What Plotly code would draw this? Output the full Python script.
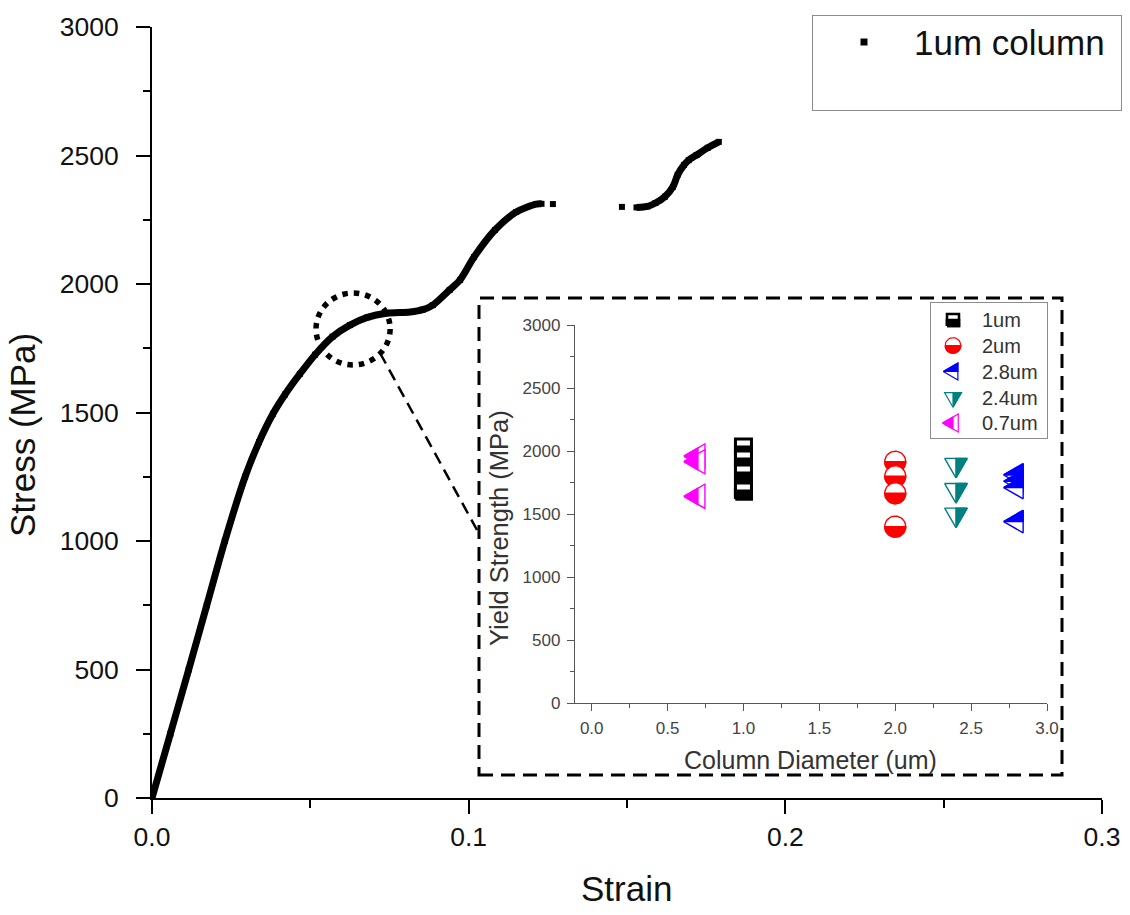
import math
import plotly.graph_objects as go

W, H = 1130, 915
FONT = "Liberation Sans, Arial, sans-serif"

# ---------------- main stress-strain curve (1um column) ----------------
strain = [0, 0.0058, 0.0116, 0.0173, 0.023, 0.0294, 0.0338, 0.0382, 0.042, 0.0467,
          0.0515, 0.057, 0.0625, 0.068, 0.074, 0.0815, 0.0855, 0.0887, 0.094, 0.0973,
          0.1017, 0.1083, 0.115, 0.1213, 0.123,
          None, 0.1266, None, 0.1484, None,
          0.153, 0.1565, 0.159, 0.162, 0.1645, 0.166, 0.168, 0.1695, 0.172, 0.1755, 0.179]
stress = [0, 250, 500, 750, 1000, 1250, 1385, 1495, 1570, 1650,
          1725, 1795, 1840, 1870, 1886, 1891, 1900, 1918, 1977, 2016,
          2105, 2210, 2280, 2311, 2312,
          None, 2311, None, 2300, None,
          2298, 2302, 2315, 2340, 2378, 2425, 2463, 2482, 2502, 2530, 2553]
main_legend_label = "1um column"

# ---------------- inset: yield strength vs column diameter ----------------
series_names = ["1um", "2um", "2.8um", "2.4um", "0.7um"]
diameters = [1.0, 2.0, 2.8, 2.4, 0.7]
ys_1um = [2032, 1937, 1825, 1698, 1683]
ys_2um = [1915, 1800, 1665, 1400]
ys_2p8um = [1810, 1760, 1710, 1440]
ys_2p4um = [1890, 1690, 1495]
ys_0p7um = [1960, 1915, 1640]
series_values = [ys_1um, ys_2um, ys_2p8um, ys_2p4um, ys_0p7um]
colors = ["#000000", "#ff0000", "#0000ff", "#008080", "#ff00ff"]
kinds = ["square", "circle", "left_top", "down_right", "left_left"]
sizes = [8, 10.5, 13, 13, 14]
edge_widths = [3, 1.4, 1.4, 1.4, 1.4]


def px_x(p):
    return p / W


def px_y(p):
    return 1 - p / H


def marker_shape(kind, r):
    h = r * math.sqrt(3) / 2
    if kind == "square":
        full = [(-r, -r), (r, -r), (r, r), (-r, r)]
        half = [(-r, -r), (r, -r), (r, 0), (-r, 0)]
    elif kind == "circle":
        full = [(r * math.cos(2 * math.pi * k / 36), r * math.sin(2 * math.pi * k / 36)) for k in range(36)]
        half = [(r * math.cos(math.pi + math.pi * k / 18), r * math.sin(math.pi + math.pi * k / 18)) for k in range(19)]
    elif kind == "left_top":
        full = [(-r, 0), (r / 2, h), (r / 2, -h)]
        half = [(-r, 0), (r / 2, h), (r / 2, 0)]
    elif kind == "down_right":
        full = [(0, -r), (h, r / 2), (-h, r / 2)]
        half = [(0, -r), (h, r / 2), (0, r / 2)]
    else:  # left_left
        full = [(-r, 0), (r / 2, h), (r / 2, -h)]
        half = [(-r, 0), (0, 2 * h / 3), (0, -2 * h / 3)]
    return full, half


def add_half_marker(fig, cx, cy, kind, r, color, kx, ky, xa, ya, lw):
    full, half = marker_shape(kind, r)
    for pts, fill in ((full, "white"), (half, color)):
        xs = [cx + dx / kx for dx, dy in pts] + [cx + pts[0][0] / kx]
        ys = [cy + dy / ky for dx, dy in pts] + [cy + pts[0][1] / ky]
        fig.add_trace(go.Scatter(x=xs, y=ys, xaxis=xa, yaxis=ya, mode="lines",
                                 fill="toself", fillcolor=fill,
                                 line=dict(color=color, width=lw),
                                 hoverinfo="skip", showlegend=False))


fig = go.Figure()

# main curve
fig.add_trace(go.Scatter(x=strain, y=stress, mode="lines+markers",
                         line=dict(color="black", width=7, shape="spline", smoothing=0.8),
                         marker=dict(symbol="square", size=6, color="black"),
                         connectgaps=False, hoverinfo="skip", showlegend=False))

# inset markers
IN_X0, IN_X1, IN_Y0, IN_Y1 = 575, 1047, 703, 325  # pixel box of inset plot area
IN_XR = [-0.11, 3.0]
IN_YR = [0, 3000]
kx_in = (IN_X1 - IN_X0) / (IN_XR[1] - IN_XR[0])
ky_in = (IN_Y0 - IN_Y1) / (IN_YR[1] - IN_YR[0])
for name, d, vals, col, kind, r, lw in zip(series_names, diameters, series_values, colors, kinds, sizes, edge_widths):
    for v in vals:
        add_half_marker(fig, d, v, kind, r, col, kx_in, ky_in, "x2", "y2", lw)

# inset legend (drawn on a pixel-scaled hidden axis)
LG_X0, LG_X1, LG_Y0, LG_Y1 = 930.7, 1046.7, 438.3, 303
legend_rows_px = [320, 345.5, 371.5, 397.5, 423]
for name, col, kind, r, rowp, lw in zip(series_names, colors, kinds, sizes, legend_rows_px, edge_widths):
    ly = LG_Y0 - rowp
    add_half_marker(fig, 22.3, ly, kind, r * 0.75, col, 1.0, 1.0, "x3", "y3", lw * 0.85)
    fig.add_annotation(x=49, y=ly, xref="x3", yref="y3", text=name, showarrow=False,
                       xanchor="left", yanchor="middle",
                       font=dict(family=FONT, size=20, color="#333333"))

# main legend (hidden pixel axis)
ML_X0, ML_X1, ML_Y0, ML_Y1 = 813, 1121, 110, 16
fig.add_trace(go.Scatter(x=[51], y=[68], xaxis="x4", yaxis="y4", mode="markers",
                         marker=dict(symbol="square", size=7, color="black"),
                         hoverinfo="skip", showlegend=False))
fig.add_annotation(x=99, y=68, xref="x4", yref="y4", text=main_legend_label, showarrow=False,
                   xanchor="left", yanchor="middle", font=dict(family=FONT, size=35, color="#111111"))

# axis titles
fig.add_annotation(x=px_x(626), y=px_y(888), xref="paper", yref="paper", text="Strain",
                   xanchor="center", yanchor="middle",
                   showarrow=False, font=dict(family=FONT, size=35, color="#111111"))
fig.add_annotation(x=px_x(22), y=px_y(435), xref="paper", yref="paper", text="Stress (MPa)",
                   xanchor="center", yanchor="middle",
                   textangle=-90, showarrow=False, font=dict(family=FONT, size=35, color="#111111"))
fig.add_annotation(x=px_x(810), y=px_y(760), xref="paper", yref="paper", text="Column Diameter (um)",
                   xanchor="center", yanchor="middle",
                   showarrow=False, font=dict(family=FONT, size=25, color="#333333"))
fig.add_annotation(x=px_x(499), y=px_y(528), xref="paper", yref="paper", text="Yield Strength (MPa)",
                   xanchor="center", yanchor="middle",
                   textangle=-90, showarrow=False, font=dict(family=FONT, size=25.5, color="#333333"))

# decorations: dashed inset frame, connector, dotted circle
fig.add_shape(type="rect", xref="paper", yref="paper",
              x0=px_x(479), x1=px_x(1062), y0=px_y(775), y1=px_y(298),
              line=dict(color="black", width=3, dash="14px,8px"))
fig.add_shape(type="line", xref="paper", yref="paper",
              x0=px_x(380), y0=px_y(353), x1=px_x(477), y1=px_y(530),
              line=dict(color="black", width=2.5, dash="12px,7px"))
fig.add_shape(type="circle", xref="x", yref="y",
              x0=0.0518, x1=0.0752, y0=1685, y1=1965,
              line=dict(color="black", width=5.5, dash="5.5px,6px"))

main_axis = dict(showline=True, linecolor="black", linewidth=2, ticks="outside",
                 ticklen=14, tickwidth=2, tickcolor="black", showgrid=False, zeroline=False,
                 tickfont=dict(family=FONT, size=26.5, color="#111111"))
inset_axis = dict(showline=True, linecolor="#555555", linewidth=1.3, ticks="outside",
                  ticklen=7, tickwidth=1.3, tickcolor="#555555", showgrid=False, zeroline=False,
                  tickfont=dict(family=FONT, size=17, color="#444444"))
hidden_axis = dict(showline=True, mirror=True, linecolor="#8c8c8c", linewidth=1.3,
                   showticklabels=False, ticks="", showgrid=False, zeroline=False, fixedrange=True)

fig.update_layout(
    width=W, height=H,
    margin=dict(l=0, r=0, t=0, b=0, autoexpand=False),
    paper_bgcolor="white", plot_bgcolor="rgba(0,0,0,0)",
    showlegend=False,
    font=dict(family=FONT),
    xaxis=dict(main_axis, domain=[px_x(152), px_x(1102)], range=[0, 0.3], dtick=0.1, tick0=0,
               tickformat=".1f", ticklabelstandoff=0, anchor="y",
               minor=dict(dtick=0.05, ticklen=8, tickwidth=2, tickcolor="black", ticks="outside", showgrid=False)),
    yaxis=dict(main_axis, domain=[px_y(798), px_y(27)], range=[0, 3000], dtick=500, tick0=0,
               ticklabelstandoff=12, anchor="x",
               minor=dict(dtick=250, ticklen=7, tickwidth=2, tickcolor="black", ticks="outside", showgrid=False)),
    xaxis2=dict(inset_axis, domain=[px_x(IN_X0), px_x(IN_X1)], range=IN_XR, dtick=0.5, tick0=0,
                tickformat=".1f", anchor="y2", ticklabelstandoff=2,
                minor=dict(dtick=0.25, ticklen=4, tickwidth=1.3, tickcolor="#555555", ticks="outside", showgrid=False)),
    yaxis2=dict(inset_axis, domain=[px_y(IN_Y0), px_y(IN_Y1)], range=IN_YR, dtick=500, tick0=0,
                anchor="x2", ticklabelstandoff=3,
                minor=dict(dtick=250, ticklen=4, tickwidth=1.3, tickcolor="#555555", ticks="outside", showgrid=False)),
    xaxis3=dict(hidden_axis, domain=[px_x(LG_X0), px_x(LG_X1)], range=[0, LG_X1 - LG_X0], anchor="y3"),
    yaxis3=dict(hidden_axis, domain=[px_y(LG_Y0), px_y(LG_Y1)], range=[0, LG_Y0 - LG_Y1], anchor="x3"),
    xaxis4=dict(hidden_axis, domain=[px_x(ML_X0), px_x(ML_X1)], range=[0, ML_X1 - ML_X0], anchor="y4"),
    yaxis4=dict(hidden_axis, domain=[px_y(ML_Y0), px_y(ML_Y1)], range=[0, ML_Y0 - ML_Y1], anchor="x4"),
)

fig.write_html("out.html", config={"displayModeBar": False},
               post_script="document.body.style.margin='0px';")
